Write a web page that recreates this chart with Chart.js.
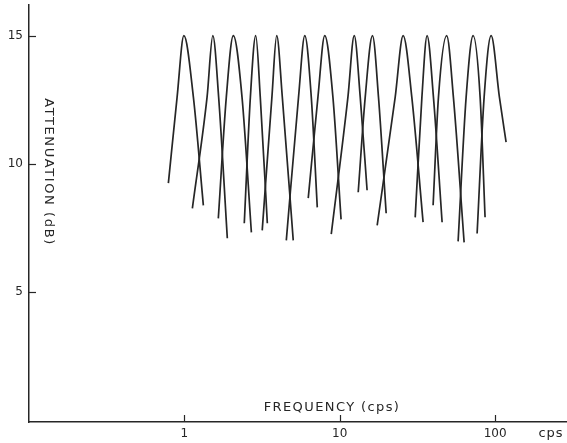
<!DOCTYPE html>
<html>
<head>
<meta charset="utf-8">
<script src="https://cdn.jsdelivr.net/npm/chart.js@4"></script>
<style>
  body { margin: 0; background: #fff; }
  #wrap { width: 567px; height: 443px; }
</style>
</head>
<body>
<div id="wrap"><canvas id="filterChart" width="567" height="443"></canvas></div>
<script>
// Frequencies (cps) for each filter curve: left end, left shoulder, peak, right shoulder, right end
const curveFreqs = [
    [0.789, 0.898, 0.993, 1.143, 1.325],
    [1.126, 1.40, 1.525, 1.662, 1.89],
    [1.654, 1.862, 2.066, 2.35, 2.70],
    [2.43, 2.66, 2.88, 3.08, 3.42],
    [3.17, 3.66, 3.93, 4.27, 5.02],
    [4.53, 5.43, 5.96, 6.56, 7.17],
    [6.27, 7.24, 8.01, 9.04, 10.2],
    [8.82, 11.29, 12.4, 13.55, 15.0],
    [13.15, 14.59, 16.25, 17.76, 19.9],
    [17.42, 22.75, 25.6, 29.1, 34.4],
    [30.6, 33.8, 36.5, 40.1, 45.6],
    [39.9, 43.2, 48.8, 53.9, 63.2],
    [57.8, 65.1, 72.2, 80.1, 86.2],
    [76.6, 85.0, 94.3, 106.6, 117.7]
];

// Attenuation (dB) at the same points
const curveDb = [
    [9.24, 12.6, 15, 12.6, 8.37],
    [8.25, 12.6, 15, 12.6, 7.08],
    [7.86, 12.6, 15, 12.6, 7.31],
    [7.67, 12.6, 15, 12.6, 7.67],
    [7.39, 12.6, 15, 12.6, 7.00],
    [7.00, 12.6, 15, 12.6, 8.29],
    [8.65, 12.6, 15, 12.6, 7.82],
    [7.24, 12.6, 15, 12.6, 8.96],
    [8.88, 12.6, 15, 12.6, 8.06],
    [7.59, 12.6, 15, 12.6, 7.71],
    [7.90, 12.6, 15, 12.6, 7.71],
    [8.37, 12.6, 15, 12.6, 6.92],
    [6.96, 12.6, 15, 12.6, 7.90],
    [7.27, 12.6, 15, 12.6, 10.84]
];

// Axis ticks
const xTickValues = [1, 10, 100];
const xTickLabels = ["1", "10", "100"];
const yTickValues = [5, 10, 15];
const yTickLabels = ["5", "10", "15"];

const xTitle = "FREQUENCY (cps)";
const xUnit = "cps";
const yTitle = "ATTENUATION (dB)";

const inkColor = "#262626";
const fontFamily = "'DejaVu Sans', sans-serif";

// Build one dataset per filter curve
const datasets = curveFreqs.map((freqs, i) => ({
    label: "filter " + (i + 1),
    data: freqs.map((f, j) => ({ x: f, y: curveDb[i][j] })),
    borderColor: inkColor,
    borderWidth: 1.7,
    pointRadius: 0,
    fill: false,
    cubicInterpolationMode: "monotone"
}));

// Inward tick marks and the hand-lettered labels
const paperPlugin = {
    id: "paper",
    afterDraw(chart) {
        const ctx = chart.ctx;
        const area = chart.chartArea;
        const xs = chart.scales.x;
        const ys = chart.scales.y;
        ctx.save();
        ctx.strokeStyle = inkColor;
        ctx.lineWidth = 1.2;
        xTickValues.forEach(v => {
            const px = Math.round(xs.getPixelForValue(v)) + 0.5;
            ctx.beginPath();
            ctx.moveTo(px, area.bottom);
            ctx.lineTo(px, area.bottom - 7);
            ctx.stroke();
        });
        yTickValues.forEach(v => {
            const py = Math.round(ys.getPixelForValue(v)) + 0.5;
            ctx.beginPath();
            ctx.moveTo(area.left, py);
            ctx.lineTo(area.left + 7, py);
            ctx.stroke();
        });

        ctx.fillStyle = inkColor;
        ctx.font = "13px " + fontFamily;
        ctx.letterSpacing = "1.4px";
        ctx.textAlign = "center";
        ctx.textBaseline = "middle";
        ctx.fillText(xTitle, 332, 408);
        ctx.letterSpacing = "1px";
        ctx.fillText(xUnit, 551, 434);

        ctx.letterSpacing = "1.6px";
        ctx.translate(48, 172);
        ctx.rotate(Math.PI / 2);
        ctx.fillText(yTitle, 0, 0);
        ctx.restore();
    }
};

const ctx = document.getElementById("filterChart").getContext("2d");
const filterChart = new Chart(ctx, {
    type: "line",
    data: { datasets: datasets },
    options: {
        responsive: false,
        animation: false,
        devicePixelRatio: 1,
        layout: { padding: { top: 5, right: 1, left: 0, bottom: 0 } },
        plugins: {
            legend: { display: false },
            tooltip: { enabled: false }
        },
        scales: {
            x: {
                type: "logarithmic",
                min: 0.1,
                max: 286,
                afterBuildTicks: scale => {
                    scale.ticks = xTickValues.map(v => ({ value: v }));
                },
                afterFit: scale => {
                    scale.height = 21;
                    scale.paddingLeft = 0;
                    scale.paddingRight = 0;
                },
                ticks: {
                    autoSkip: false,
                    maxRotation: 0,
                    padding: 5,
                    color: inkColor,
                    font: { family: fontFamily, size: 12 },
                    callback: (value) => {
                        const i = xTickValues.indexOf(value);
                        return i >= 0 ? xTickLabels[i] : "";
                    }
                },
                grid: { display: false, drawTicks: false },
                border: { display: true, color: inkColor, width: 1.5 }
            },
            y: {
                type: "linear",
                min: -0.1,
                max: 16.2,
                afterBuildTicks: scale => {
                    scale.ticks = yTickValues.map(v => ({ value: v }));
                },
                afterFit: scale => {
                    scale.width = 29;
                    scale.paddingTop = 0;
                    scale.paddingBottom = 0;
                },
                ticks: {
                    padding: 6,
                    color: inkColor,
                    font: { family: fontFamily, size: 12 },
                    callback: (value) => {
                        const i = yTickValues.indexOf(value);
                        return i >= 0 ? yTickLabels[i] : "";
                    }
                },
                grid: { display: false, drawTicks: false },
                border: { display: true, color: inkColor, width: 1.5 }
            }
        }
    },
    plugins: [paperPlugin]
});
</script>
</body>
</html>
